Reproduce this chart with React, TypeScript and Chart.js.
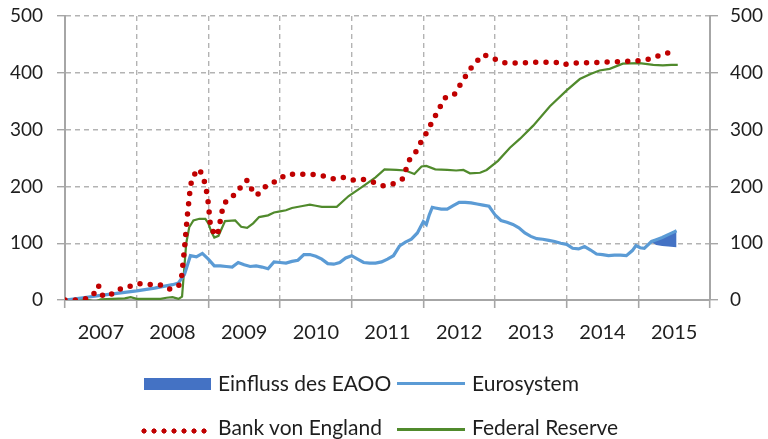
import React, { useEffect, useRef } from "react";
import { Chart, registerables } from "chart.js";

Chart.register(...registerables);

// ---- Data (x in months since Jan 2007, y in index values) ----
const yearLabels = ["2007", "2008", "2009", "2010", "2011", "2012", "2013", "2014", "2015"];
const yTicks = [0, 100, 200, 300, 400, 500];

const euroMonths = [0, 3, 6, 9, 12, 15, 18, 19, 20, 21, 22, 23, 24, 25, 26, 27, 28, 29, 30, 31, 32, 33, 34, 35, 36, 37, 38, 39, 40, 41, 42, 43, 44, 45, 46, 47, 48, 49, 50, 51, 52, 53, 54, 55, 56, 57, 58, 59, 60, 60.5, 61, 61.5, 62, 63, 64, 65, 66, 67, 68, 69, 70, 71, 72, 73, 74, 75, 76, 77, 78, 79, 80, 81, 82, 83, 84, 85, 86, 87, 88, 89, 90, 91, 92, 93, 94, 95, 95.6, 96.3, 97, 98.2, 99, 100, 101, 102, 102.4];
const euroValues = [0, 4, 8, 12, 16, 21, 27, 30, 45, 78, 76, 82, 72, 60, 60, 59, 58, 66, 62, 59, 60, 58, 55, 67, 66, 65, 68, 70, 80, 80, 77, 72, 64, 63, 66, 74, 78, 72, 66, 65, 65, 67, 72, 78, 95, 102, 107, 118, 138, 133, 150, 163, 162, 160, 160, 166, 172, 172, 171, 169, 167, 165, 150, 140, 137, 133, 127, 118, 112, 108, 107, 105, 103, 100, 98, 91, 90, 94, 88, 81, 80, 78, 79, 79, 78, 87, 96, 92, 91, 103, 106, 110, 115, 120, 122];

const eaooMonths = [98.2, 99, 100, 101, 102.4];
const eaooValues = [102, 97, 95, 94, 93];

const boeMonths = [0, 2, 3.9, 4.9, 5.6, 6.1, 7.3, 8.6, 10.2, 11.7, 13.1, 14.5, 15.9, 17.4, 19, 19.5, 20, 20.5, 21, 21.4, 22.5, 23.2, 23.6, 24, 24.4, 25.5, 26.2, 26.5, 27.6, 28.8, 29.7, 30.5, 31.2, 32.1, 33.2, 34.4, 35.7, 36.8, 38.5, 41.8, 43.5, 45.1, 46.8, 48.4, 50.1, 51.8, 53.3, 55, 56.5, 57.7, 58.7, 59.5, 60.4, 61.2, 62, 62.8, 63.6, 65.1, 66, 66.9, 67.8, 68.9, 70.1, 71.6, 73.2, 76, 80, 82.5, 83.3, 85, 88, 91, 94, 96.9, 98.5, 100.1, 101.8];
const boeValues = [0, 0, 3, 12, 26, 9, 6, 18, 21, 28, 29, 27, 27, 19, 24, 38, 90, 150, 200, 218, 231, 214, 198, 170, 125, 113, 150, 168, 180, 188, 204, 211, 196, 184, 197, 206, 210, 220, 222, 221, 218, 213, 216, 211, 212, 207, 201, 205, 213, 247, 260, 276, 292, 308, 324, 340, 356, 360, 376, 391, 406, 420, 432, 426, 418, 417, 419, 418, 414, 417, 418, 419, 420, 422, 426, 433, 437];

const fedMonths = [0, 2, 3, 4, 5, 6, 8, 10, 11, 12, 14, 16, 17, 18, 19, 19.6, 20.3, 20.8, 21.5, 22.5, 23.5, 24, 24.5, 25, 25.7, 26.8, 28.5, 29.5, 30.5, 31.5, 32.5, 34, 35, 36, 37, 38, 40, 41, 42, 43, 45.5, 47.5, 50, 52, 53.5, 55.5, 57, 58.5, 59.7, 60.5, 62, 64, 65.5, 66.7, 67.8, 69.5, 70.6, 72.5, 74.5, 76.2, 78.4, 81.2, 84, 86.2, 88, 89.5, 91.2, 93.4, 96.2, 98.5, 100.1, 101.5, 102.6];
const fedValues = [0, 2, 1, 0, -3, 1, 2, 3, 5, 2, 2, 2, 4, 5, 2, 6, 100, 128, 140, 143, 143, 135, 120, 110, 113, 139, 140, 129, 127, 135, 146, 149, 154, 156, 158, 162, 166, 168, 166, 164, 164, 183, 201, 216, 230, 229, 228, 222, 235, 236, 230, 229, 228, 229, 223, 224, 229, 245, 268, 284, 307, 341, 369, 389, 398, 404, 407, 416, 417, 414, 413, 414, 414];

const seriesNames = ["Einfluss des EAOO", "Eurosystem", "Bank von England", "Federal Reserve"];

const toPoints = (xs: number[], ys: number[]) => xs.map((x, i) => ({ x, y: ys[i] }));

const COLORS = {
  eaoo: "#4472c4",
  euro: "#5b9bd5",
  boe: "#c00000",
  fed: "#508a2c",
  grid: "#b3b3b3",
  axis: "#a6a6a6",
  text: "#1e1e1e",
};

const FONT = "Lato, 'DejaVu Sans', sans-serif";

const fitY = (w: number) => (s: any) => {
  s.width = w;
  s.paddingTop = 0;
  s.paddingBottom = 0;
};

export default function App() {
  const canvasRef = useRef<HTMLCanvasElement | null>(null);

  useEffect(() => {
    const canvas = canvasRef.current;
    if (!canvas) return;
    const chart = new Chart(canvas, {
      type: "line",
      data: {
        datasets: [
          {
            label: seriesNames[0],
            data: toPoints(eaooMonths, eaooValues),
            borderWidth: 0,
            borderColor: COLORS.eaoo,
            backgroundColor: COLORS.eaoo,
            pointRadius: 0,
            fill: 1,
            order: 3,
          },
          {
            label: seriesNames[1],
            data: toPoints(euroMonths, euroValues),
            borderColor: COLORS.euro,
            borderWidth: 3.2,
            pointRadius: 0,
            fill: false,
            order: 2,
          },
          {
            label: seriesNames[2],
            data: toPoints(boeMonths, boeValues),
            borderColor: COLORS.boe,
            borderWidth: 5.5,
            borderDash: [0, 10.3],
            borderCapStyle: "round",
            pointRadius: 0,
            fill: false,
            order: 1,
          },
          {
            label: seriesNames[3],
            data: toPoints(fedMonths, fedValues),
            borderColor: COLORS.fed,
            borderWidth: 2.2,
            pointRadius: 0,
            fill: false,
            order: 4,
          },
        ],
      },
      options: {
        responsive: false,
        animation: false,
        layout: { padding: { top: 16, left: 0, right: 0, bottom: 0 } },
        plugins: {
          legend: { display: false },
          tooltip: { enabled: false },
        },
        elements: { line: { tension: 0 } },
        scales: {
          x: {
            type: "linear",
            min: 0,
            max: 108,
            afterFit: (s: any) => {
              s.height = 139;
              s.paddingLeft = 0;
              s.paddingRight = 0;
            },
            ticks: {
              stepSize: 6,
              autoSkip: false,
              maxRotation: 0,
              minRotation: 0,
              padding: 13,
              color: COLORS.text,
              font: { family: FONT, size: 20 },
              callback: (v: any) => {
                const n = Number(v);
                return n % 12 === 6 ? yearLabels[(n - 6) / 12] : "";
              },
            },
            grid: {
              color: (ctx: any) => {
                const v = ctx.tick ? ctx.tick.value : -1;
                return v % 12 === 0 && v > 0 && v < 108 ? COLORS.grid : "transparent";
              },
              tickColor: (ctx: any) => {
                const v = ctx.tick ? ctx.tick.value : -1;
                return v % 12 === 0 ? COLORS.axis : "transparent";
              },
              lineWidth: 1.4,
              tickLength: 8,
              tickWidth: 1.6,
            },
            border: { display: true, color: COLORS.axis, width: 2, dash: [5, 4] },
          },
          y: {
            position: "left",
            min: 0,
            max: 500,
            afterFit: fitY(65),
            afterBuildTicks: (s: any) => {
              s.ticks = yTicks.map((v) => ({ value: v }));
            },
            ticks: {
              padding: 14,
              color: COLORS.text,
              font: { family: FONT, size: 19 },
            },
            grid: {
              color: (ctx: any) => (ctx.tick && ctx.tick.value === 0 ? "transparent" : COLORS.grid),
              tickColor: COLORS.axis,
              lineWidth: 1.4,
              tickLength: 8,
            },
            border: { display: true, color: COLORS.axis, width: 2, dash: [5, 4] },
          },
          y2: {
            position: "right",
            min: 0,
            max: 500,
            afterFit: fitY(58),
            afterBuildTicks: (s: any) => {
              s.ticks = yTicks.map((v) => ({ value: v }));
            },
            ticks: {
              padding: 12,
              color: COLORS.text,
              font: { family: FONT, size: 19 },
            },
            grid: {
              drawOnChartArea: false,
              color: COLORS.grid,
              tickColor: COLORS.axis,
              lineWidth: 1.4,
              tickLength: 8,
            },
            border: { display: true, color: COLORS.axis, width: 2 },
          },
        },
      },
    } as any);
    return () => chart.destroy();
  }, []);

  const textStyle: React.CSSProperties = {
    position: "absolute",
    fontFamily: FONT,
    fontSize: 21,
    lineHeight: "24px",
    color: COLORS.text,
    whiteSpace: "nowrap",
  };

  return (
    <div style={{ position: "absolute", left: 0, top: 0, width: 768, height: 439, background: "#fff", overflow: "hidden" }}>
      <canvas ref={canvasRef} width={768} height={439} style={{ position: "absolute", left: 0, top: 0, width: 768, height: 439 }} />
      {/* Legend */}
      <div style={{ position: "absolute", left: 144, top: 378, width: 67, height: 12, background: COLORS.eaoo }} />
      <div style={{ ...textStyle, left: 218, top: 371 }}>{seriesNames[0]}</div>
      <div style={{ position: "absolute", left: 397, top: 382, width: 68, height: 3, background: COLORS.euro }} />
      <div style={{ ...textStyle, left: 472, top: 371 }}>{seriesNames[1]}</div>
      <div
        style={{
          position: "absolute",
          left: 139,
          top: 428,
          width: 70,
          height: 6,
          backgroundImage: `radial-gradient(circle, ${COLORS.boe} 2.3px, transparent 2.9px)`,
          backgroundSize: "10px 6px",
        }}
      />
      <div style={{ ...textStyle, left: 218, top: 415 }}>{seriesNames[2]}</div>
      <div style={{ position: "absolute", left: 397, top: 428, width: 68, height: 2.5, background: COLORS.fed }} />
      <div style={{ ...textStyle, left: 472, top: 415 }}>{seriesNames[3]}</div>
    </div>
  );
}
